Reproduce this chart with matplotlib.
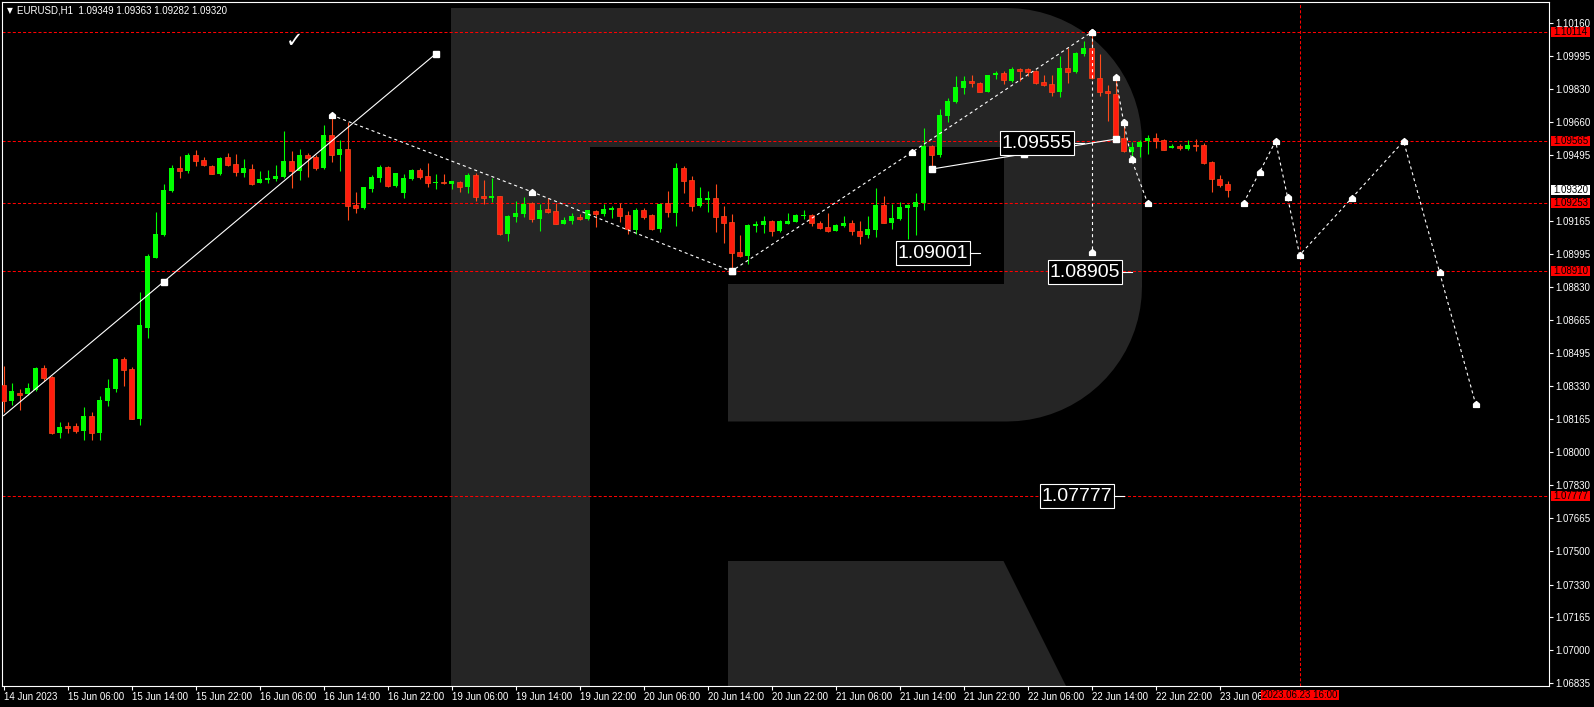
import numpy as np
import matplotlib
matplotlib.use("Agg")
import matplotlib.pyplot as plt
from matplotlib.path import Path
from matplotlib.patches import Rectangle, Polygon
from matplotlib import font_manager as fm

# ---------------- data ----------------
opens = [1.08336,1.08257,1.08296,1.08291,1.08311,1.08422,1.08377,1.08096,1.08130,1.08130,
         1.08105,1.08180,1.08096,1.08257,1.08316,1.08468,1.08417,1.08167,1.08625,1.08977,
         1.09092,1.09313,1.09429,1.09414,1.09495,1.09470,1.09439,1.09399,1.09485,1.09449,
         1.09404,1.09424,1.09354,1.09369,1.09374,1.09384,1.09465,1.09414,1.09495,1.09485,
         1.09429,1.09596,1.09495,1.09525,1.09243,1.09228,1.09323,1.09379,1.09434,1.09339,
         1.09303,1.09374,1.09419,1.09389,1.09354,1.09359,1.09349,1.09359,1.09334,1.09394,
         1.09288,1.09278,1.09288,1.09098,1.09182,1.09197,1.09253,1.09172,1.09223,1.09213,
         1.09147,1.09162,1.09182,1.09172,1.09213,1.09197,1.09218,1.09228,1.09192,1.09117,
         1.09218,1.09192,1.09122,1.09253,1.09202,1.09429,1.09369,1.09238,1.09268,1.09278,
         1.09187,1.09157,1.09006,1.08986,1.09137,1.09142,1.09162,1.09112,1.09147,1.09157,
         1.09187,1.09192,1.09152,1.09132,1.09112,1.09137,1.09152,1.09112,1.09092,1.09117,
         1.09243,1.09152,1.09172,1.09228,1.09233,1.09254,1.09540,1.09495,1.09691,1.09762,
         1.09832,1.09868,1.09858,1.09812,1.09898,1.09908,1.09868,1.09928,1.09928,1.09918,
         1.09863,1.09853,1.09812,1.09933,1.09913,1.10004,1.10034,1.09883,1.09817,1.09802,
         1.09580,1.09510,1.09535,1.09565,1.09580,1.09570,1.09530,1.09540,1.09525,1.09545,
         1.09545,1.09460,1.09374,1.09349]
highs = [1.08432,1.08347,1.08315,1.08345,1.08425,1.08437,1.08380,1.08150,1.08150,1.08145,
         1.08226,1.08201,1.08281,1.08367,1.08470,1.08478,1.08427,1.08805,1.08996,1.09208,
         1.09349,1.09444,1.09490,1.09506,1.09520,1.09485,1.09445,1.09485,1.09505,1.09500,
         1.09475,1.09449,1.09414,1.09419,1.09445,1.09616,1.09515,1.09525,1.09505,1.09495,
         1.09646,1.09691,1.09571,1.09661,1.09308,1.09334,1.09394,1.09445,1.09439,1.09404,
         1.09399,1.09424,1.09429,1.09455,1.09399,1.09399,1.09365,1.09362,1.09404,1.09404,
         1.09369,1.09379,1.09290,1.09192,1.09263,1.09283,1.09256,1.09248,1.09278,1.09253,
         1.09182,1.09202,1.09197,1.09220,1.09218,1.09248,1.09238,1.09253,1.09213,1.09228,
         1.09228,1.09197,1.09253,1.09313,1.09455,1.09439,1.09389,1.09334,1.09313,1.09349,
         1.09238,1.09197,1.09092,1.09145,1.09162,1.09187,1.09170,1.09167,1.09202,1.09197,
         1.09218,1.09197,1.09162,1.09202,1.09147,1.09187,1.09167,1.09162,1.09187,1.09329,
         1.09288,1.09248,1.09258,1.09248,1.09303,1.09632,1.09545,1.09726,1.09782,1.09893,
         1.09893,1.09898,1.09863,1.09900,1.09918,1.09918,1.09938,1.09931,1.09933,1.09923,
         1.09898,1.09898,1.09994,1.10034,1.10014,1.10069,1.10114,1.10004,1.09848,1.09888,
         1.09661,1.09560,1.09570,1.09596,1.09606,1.09575,1.09550,1.09550,1.09570,1.09575,
         1.09555,1.09465,1.09394,1.09363]
lows = [1.08202,1.08236,1.08211,1.08286,1.08306,1.08358,1.08090,1.08071,1.08096,1.08095,
        1.08060,1.08060,1.08060,1.08232,1.08303,1.08333,1.08165,1.08136,1.08574,1.08975,
        1.09087,1.09308,1.09379,1.09404,1.09441,1.09440,1.09398,1.09395,1.09439,1.09389,
        1.09384,1.09344,1.09352,1.09354,1.09364,1.09379,1.09329,1.09369,1.09384,1.09419,
        1.09424,1.09460,1.09414,1.09167,1.09203,1.09225,1.09308,1.09359,1.09334,1.09334,
        1.09278,1.09369,1.09374,1.09334,1.09323,1.09349,1.09324,1.09308,1.09303,1.09263,
        1.09248,1.09258,1.09090,1.09060,1.09157,1.09182,1.09157,1.09111,1.09202,1.09145,
        1.09145,1.09147,1.09170,1.09167,1.09134,1.09187,1.09177,1.09157,1.09097,1.09097,
        1.09172,1.09117,1.09107,1.09182,1.09137,1.09303,1.09213,1.09233,1.09208,1.09107,
        1.09052,1.08910,1.08981,1.08946,1.09107,1.09102,1.09087,1.09107,1.09145,1.09155,
        1.09172,1.09137,1.09122,1.09107,1.09110,1.09132,1.09092,1.09046,1.09077,1.09082,
        1.09150,1.09122,1.09167,1.09072,1.09092,1.09218,1.09424,1.09485,1.09661,1.09757,
        1.09802,1.09838,1.09810,1.09810,1.09878,1.09853,1.09863,1.09868,1.09893,1.09853,
        1.09843,1.09792,1.09787,1.09858,1.09908,1.09994,1.09880,1.09792,1.09666,1.09570,
        1.09510,1.09465,1.09485,1.09500,1.09530,1.09518,1.09528,1.09520,1.09520,1.09515,
        1.09450,1.09308,1.09334,1.09282]
closes = [1.08257,1.08306,1.08286,1.08321,1.08422,1.08373,1.08096,1.08125,1.08120,1.08106,
          1.08180,1.08096,1.08261,1.08321,1.08468,1.08414,1.08167,1.08639,1.08987,1.09097,
          1.09318,1.09429,1.09415,1.09495,1.09465,1.09445,1.09400,1.09480,1.09445,1.09409,
          1.09429,1.09349,1.09374,1.09379,1.09389,1.09465,1.09414,1.09495,1.09480,1.09429,
          1.09596,1.09495,1.09525,1.09238,1.09228,1.09334,1.09384,1.09434,1.09339,1.09404,
          1.09379,1.09419,1.09384,1.09354,1.09359,1.09354,1.09363,1.09334,1.09394,1.09283,
          1.09278,1.09288,1.09098,1.09187,1.09202,1.09248,1.09172,1.09218,1.09208,1.09147,
          1.09167,1.09187,1.09172,1.09218,1.09197,1.09223,1.09228,1.09187,1.09122,1.09218,
          1.09182,1.09122,1.09248,1.09208,1.09429,1.09364,1.09238,1.09278,1.09278,1.09182,
          1.09152,1.09001,1.08986,1.09142,1.09147,1.09162,1.09112,1.09162,1.09162,1.09192,
          1.09192,1.09152,1.09127,1.09112,1.09142,1.09152,1.09112,1.09087,1.09122,1.09243,
          1.09152,1.09177,1.09233,1.09243,1.09258,1.09540,1.09495,1.09696,1.09767,1.09838,
          1.09868,1.09858,1.09812,1.09898,1.09908,1.09873,1.09928,1.09918,1.09913,1.09858,
          1.09848,1.09812,1.09933,1.09913,1.10009,1.10034,1.09884,1.09812,1.09807,1.09575,
          1.09515,1.09535,1.09560,1.09580,1.09565,1.09520,1.09540,1.09530,1.09545,1.09540,
          1.09455,1.09374,1.09344,1.09320]

xtick_idx = [0, 8, 16, 24, 32, 40, 48, 56, 64, 72, 80, 88, 96, 104, 112, 120, 128, 136, 144, 152]
xtick_labels = ["14 Jun 2023", "15 Jun 06:00", "15 Jun 14:00", "15 Jun 22:00", "16 Jun 06:00",
                "16 Jun 14:00", "16 Jun 22:00", "19 Jun 06:00", "19 Jun 14:00", "19 Jun 22:00",
                "20 Jun 06:00", "20 Jun 14:00", "20 Jun 22:00", "21 Jun 06:00", "21 Jun 14:00",
                "21 Jun 22:00", "22 Jun 06:00", "22 Jun 14:00", "22 Jun 22:00", "23 Jun 06:"]
ytick_vals = [1.10160, 1.09995, 1.09830, 1.09660, 1.09495, 1.09165, 1.08995, 1.08830, 1.08665,
              1.08495, 1.08330, 1.08165, 1.08000, 1.07830, 1.07665, 1.07500, 1.07330, 1.07165,
              1.07000, 1.06835]

levels = [1.10114, 1.09565, 1.09253, 1.08910, 1.07777]
vline_idx = 162
vline_label = "2023.06.23 16:00"
last_price = 1.09320
header = "EURUSD,H1  1.09349 1.09363 1.09282 1.09320"

# solid trend lines (x = bar index, y = price)
trend1_x = [0, 20, 54]
trend1_y = [1.08182, 1.08856, 1.10004]
trend2_x = [116, 127.5, 139]
trend2_y = [1.09424, 1.09500, 1.09575]

# dashed wave structure
wave1_x = [41, 66, 91, 113.5, 136]
wave1_y = [1.09696, 1.09310, 1.08910, 1.09508, 1.10114]
drop_x = [136, 136]
drop_y = [1.10114, 1.09006]
wave2_x = [139, 140, 141, 143]
wave2_y = [1.09886, 1.09663, 1.09473, 1.09253]
fc_x = [155, 157, 159, 160.5, 162, 168.5, 175, 179.5, 184]
fc_y = [1.09253, 1.09409, 1.09565, 1.09282, 1.08991, 1.09277, 1.09565, 1.08904, 1.08241]

# price tag objects: (price, anchor bar index)
tags = [(1.09001, 122), (1.09555, 135), (1.08905, 141), (1.07777, 140)]
check_pos = (36.4, 1.10069)

# ---------------- figure ----------------
W, H, DPI = 1594, 707, 100
names = {f.name for f in fm.fontManager.ttflist}
SMALL = "Liberation Sans" if "Liberation Sans" in names else "DejaVu Sans"
if "Liberation Sans Narrow" in names:
    BIG, BIGSIZE = "Liberation Sans Narrow", 17.5
else:
    BIG, BIGSIZE = SMALL, 14.0
plt.rcParams["lines.scale_dashes"] = False

fig = plt.figure(figsize=(W / DPI, H / DPI), dpi=DPI, facecolor="black")
ax = fig.add_axes([2 / W, 1 - 686 / H, (1549 - 2) / W, (686 - 2) / H])
ax.set_facecolor("black")
ax.set_xlim(-0.2, 193.175)
ax.set_ylim(1.068199, 1.102658)


def fpx(x, y):
    return (x / W, 1 - y / H)


# -------- watermark logo (pixel space) --------
LOGO = "#252525"
r = 135.0
L, T, R, B = 451.0, 8.0, 1142.0, 421.5
verts = [(L, T), (R - r, T)]
th = np.linspace(np.pi / 2, 0, 20)
verts += [(R - r + r * np.cos(t), T + r - r * np.sin(t)) for t in th]
verts += [(R, B - r)]
th = np.linspace(0, -np.pi / 2, 20)
verts += [(R - r + r * np.cos(t), B - r - r * np.sin(t)) for t in th]
verts += [(L, B), (L, T)]
ax.add_patch(Polygon([fpx(*v) for v in verts], closed=True, transform=fig.transFigure,
                     facecolor=LOGO, edgecolor="none", zorder=0))
for (x0, y0, x1, y1) in [(590, 146.5, 1004, 284), (590, 284, 728, 421.5)]:
    ax.add_patch(Polygon([fpx(x0, y0), fpx(x1, y0), fpx(x1, y1), fpx(x0, y1)], closed=True,
                         transform=fig.transFigure, facecolor="black", edgecolor="none", zorder=0.1))
ax.add_patch(Polygon([fpx(451, 8), fpx(590, 8), fpx(590, 700), fpx(451, 700)], closed=True,
                     transform=fig.transFigure, facecolor=LOGO, edgecolor="none", zorder=0.2))
ax.add_patch(Polygon([fpx(728, 561), fpx(1003.5, 561), fpx(1069, 692), fpx(728, 692)], closed=True,
                     transform=fig.transFigure, facecolor=LOGO, edgecolor="none", zorder=0.2))

# -------- levels --------
RED = "#ff0000"
for p in levels:
    ax.axhline(p, color=RED, lw=0.75, ls=(0, (2.2, 1.5)), zorder=1)
ax.axvline(vline_idx, color=RED, lw=0.75, ls=(0, (2.2, 1.5)), zorder=1)

# -------- candles --------
o = np.array(opens); hi = np.array(highs); lo = np.array(lows); c = np.array(closes)
idx = np.arange(len(o))
up = c >= o
GREEN = "#00ff00"
BEAR = "#ff1c0e"
BEARW = "#ff4a1a"
minh = 0.00005
ax.vlines(idx[up], lo[up], hi[up], colors=GREEN, lw=0.8, zorder=2)
ax.vlines(idx[~up], lo[~up], hi[~up], colors=BEARW, lw=0.8, zorder=2)
ax.bar(idx[up], np.maximum(c - o, minh)[up], bottom=o[up], width=0.6, color=GREEN,
       linewidth=0, zorder=3)
ax.bar(idx[~up], np.maximum(o - c, minh)[~up], bottom=c[~up], width=0.6, color=BEAR,
       edgecolor=BEARW, linewidth=0.5, zorder=3)

# -------- drawings --------
house = Path([(-1, -1), (1, -1), (1, 0.15), (0, 1), (-1, 0.15), (-1, -1)],
             [Path.MOVETO, Path.LINETO, Path.LINETO, Path.LINETO, Path.LINETO, Path.CLOSEPOLY])
WHITE = "white"
ax.plot(trend1_x, trend1_y, color=WHITE, lw=0.8, zorder=5)
ax.plot(trend1_x[1:], trend1_y[1:], ls="none", marker="s", ms=3.8, color=WHITE, zorder=6)
ax.plot(trend2_x, trend2_y, color=WHITE, lw=0.8, zorder=5)
ax.plot(trend2_x, trend2_y, ls="none", marker="s", ms=3.8, color=WHITE, zorder=6)

dash = (0, (2.2, 2.2))
for xs, ys in [(wave1_x, wave1_y), (drop_x, drop_y), (wave2_x, wave2_y), (fc_x, fc_y)]:
    ax.plot(xs, ys, color=WHITE, lw=0.8, ls=dash, zorder=5)
    ax.plot(xs, ys, ls="none", marker=house, ms=4.2, color=WHITE, zorder=6)
ax.plot([wave1_x[2]], [wave1_y[2]], ls="none", marker="s", ms=3.8, color=WHITE, zorder=6)

ax.text(check_pos[0], check_pos[1], "\u2713", color=WHITE, fontsize=15, fontweight="bold",
        family="DejaVu Sans", ha="center", va="center", zorder=6)

# -------- axes styling --------
for s in ax.spines.values():
    s.set_color(WHITE)
    s.set_linewidth(0.8)
ax.yaxis.tick_right()
ax.set_yticks(ytick_vals)
ax.set_yticklabels(["%.5f" % v for v in ytick_vals], family=SMALL)
ax.set_xticks(xtick_idx)
ax.set_xticklabels(xtick_labels, family=SMALL)
ax.tick_params(axis="both", colors=WHITE, labelsize=7, length=3, width=0.8, pad=1.5)
for lbl in ax.get_xticklabels():
    lbl.set_ha("left")


def price_py(p):
    return H - ax.transData.transform((0, p))[1]


def idx_px(i):
    return ax.transData.transform((i, 0))[0]


def box(x0, y0, w, h, fc, ec="none", lw=0.0, z=10):
    fig.add_artist(Rectangle((x0 / W, 1 - (y0 + h) / H), w / W, h / H, transform=fig.transFigure,
                             facecolor=fc, edgecolor=ec, linewidth=lw, zorder=z))


# right-axis level labels
for p in levels:
    y = price_py(p)
    box(1551, y - 5, 39, 10, RED)
    fig.text(1570.5 / W, 1 - y / H, "%.5f" % p, color="black", fontsize=7, family=SMALL,
             ha="center", va="center", zorder=11)
y = price_py(last_price)
box(1551, y - 5, 39, 10, WHITE)
fig.text(1570.5 / W, 1 - y / H, "%.5f" % last_price, color="black", fontsize=7, family=SMALL,
         ha="center", va="center", zorder=11)

# bottom vertical line label
xv = idx_px(vline_idx)
box(xv - 39, 689.5, 78, 10.5, RED)
fig.text(xv / W, 1 - 694.7 / H, vline_label, color="black", fontsize=7, family=SMALL,
         ha="center", va="center", zorder=11)

# price tags
for p, ai in tags:
    xa = idx_px(ai)
    y = price_py(p)
    x1 = xa - 9.5
    box(x1 - 74, y - 12.3, 74, 24.6, "black", WHITE, 0.8, z=12)
    fig.text((x1 - 37) / W, 1 - (y + 0.5) / H, "%.5f" % p, color=WHITE, fontsize=BIGSIZE,
             family=BIG, ha="center", va="center", zorder=13)
    fig.add_artist(plt.Line2D([x1 / W, xa / W], [1 - y / H, 1 - y / H], color=WHITE, lw=0.8,
                              transform=fig.transFigure, zorder=12))

# header
fig.text(7 / W, 1 - 10.7 / H, "\u25bc", color=WHITE, fontsize=5.5, family="DejaVu Sans",
         ha="left", va="center", zorder=11)
fig.text(17 / W, 1 - 10.7 / H, header, color=WHITE, fontsize=7, family=SMALL,
         ha="left", va="center", zorder=11)

fig.savefig("out.png", dpi=DPI, facecolor="black")
